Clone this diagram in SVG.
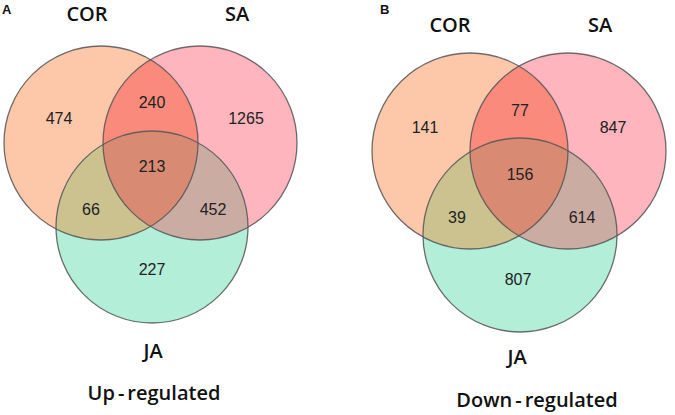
<svg xmlns="http://www.w3.org/2000/svg" width="675" height="415" viewBox="0 0 675 415">
<style>
.lbl{font-family:"Open Sans","Noto Sans",sans-serif;font-weight:600;font-size:20px;fill:#111;text-anchor:middle}
.pl{font-family:"Liberation Sans",Arial,sans-serif;font-weight:700;font-size:13px;fill:#111}
.num{font-family:"Liberation Sans",Arial,sans-serif;font-size:16px;fill:#222;text-anchor:middle}
.ol{fill:none;stroke:#555;stroke-width:1.3;stroke-opacity:0.85}
</style>
<defs>
<clipPath id="aCOR"><circle cx="101" cy="143" r="97"/></clipPath>
<clipPath id="aSA"><circle cx="200" cy="143" r="97"/></clipPath>
<clipPath id="bCOR"><circle cx="470" cy="151" r="98"/></clipPath>
<clipPath id="bSA"><circle cx="568" cy="151" r="98"/></clipPath>
</defs>
<rect width="675" height="415" fill="#fff"/>
<g id="panelA">
<text class="pl" x="2" y="14">A</text>
<g id="A-COR"><circle cx="101" cy="143" r="97" fill="#fdc8aa"/></g>
<g id="A-SA"><circle cx="200" cy="143" r="97" fill="#ffb5bd"/></g>
<g id="A-JA"><circle cx="152" cy="227" r="96" fill="#b3eed8"/></g>
<g clip-path="url(#aCOR)"><circle cx="200" cy="143" r="97" fill="#fa8a7c"/><circle cx="152" cy="227" r="96" fill="#cbc28f"/></g>
<g clip-path="url(#aSA)"><circle cx="152" cy="227" r="96" fill="#cbaca3"/></g>
<g clip-path="url(#aCOR)"><g clip-path="url(#aSA)"><circle cx="152" cy="227" r="96" fill="#d88b72"/></g></g>
<circle class="ol" cx="101" cy="143" r="97"/>
<circle class="ol" cx="200" cy="143" r="97"/>
<circle class="ol" cx="152" cy="227" r="96"/>
<text class="lbl" x="87" y="21">COR</text>
<text class="lbl" x="237" y="21">SA</text>
<text class="lbl" x="153" y="358">JA</text>
<text class="lbl" x="154" y="400">Up<tspan dx="3">-</tspan><tspan dx="3">regulated</tspan></text>
<text class="num" x="59" y="124">474</text>
<text class="num" x="152" y="108">240</text>
<text class="num" x="246" y="124">1265</text>
<text class="num" x="152" y="172">213</text>
<text class="num" x="91" y="215">66</text>
<text class="num" x="213" y="215">452</text>
<text class="num" x="152" y="275">227</text>
</g>
<g id="panelB">
<text class="pl" x="380" y="14">B</text>
<g id="B-COR"><circle cx="470" cy="151" r="98" fill="#fdc8aa"/></g>
<g id="B-SA"><circle cx="568" cy="151" r="98" fill="#ffb5bd"/></g>
<g id="B-JA"><circle cx="520" cy="235" r="97" fill="#b3eed8"/></g>
<g clip-path="url(#bCOR)"><circle cx="568" cy="151" r="98" fill="#fa8a7c"/><circle cx="520" cy="235" r="97" fill="#cbc28f"/></g>
<g clip-path="url(#bSA)"><circle cx="520" cy="235" r="97" fill="#cbaca3"/></g>
<g clip-path="url(#bCOR)"><g clip-path="url(#bSA)"><circle cx="520" cy="235" r="97" fill="#d88b72"/></g></g>
<circle class="ol" cx="470" cy="151" r="98"/>
<circle class="ol" cx="568" cy="151" r="98"/>
<circle class="ol" cx="520" cy="235" r="97"/>
<text class="lbl" x="450" y="32">COR</text>
<text class="lbl" x="600" y="32">SA</text>
<text class="lbl" x="517" y="364">JA</text>
<text class="lbl" x="537" y="407">Down<tspan dx="3">-</tspan><tspan dx="3">regulated</tspan></text>
<text class="num" x="425" y="133">141</text>
<text class="num" x="520" y="116">77</text>
<text class="num" x="613" y="133">847</text>
<text class="num" x="520" y="180">156</text>
<text class="num" x="457" y="223">39</text>
<text class="num" x="582" y="223">614</text>
<text class="num" x="518" y="285">807</text>
</g>
</svg>
